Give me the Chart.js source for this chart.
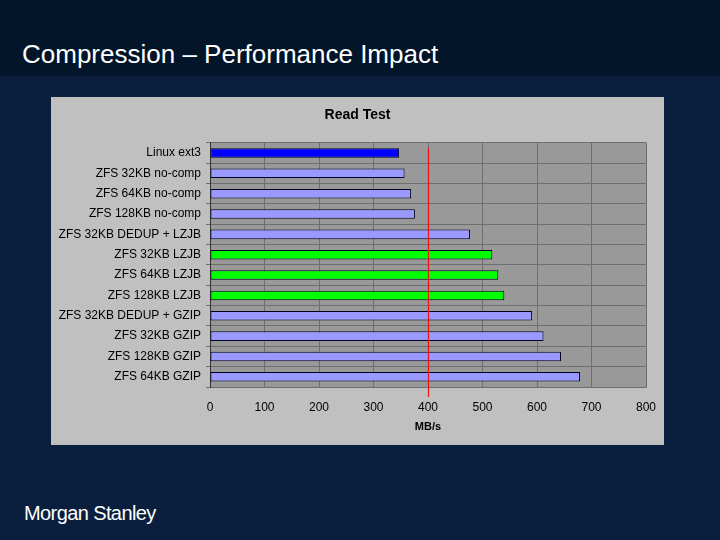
<!DOCTYPE html>
<html>
<head>
<meta charset="utf-8">
<script src="https://cdn.jsdelivr.net/npm/chart.js@4/dist/chart.umd.min.js"></script>
<style>
  html, body { margin: 0; padding: 0; }
  body { width: 720px; height: 540px; background: #0a1f3e; position: relative; overflow: hidden; font-family: "Liberation Sans", Arial, sans-serif; }
  #band { position: absolute; left: 0; top: 0; width: 720px; height: 76px; background: #021529; }
  #title { position: absolute; left: 22px; top: 39px; color: #ffffff; font-size: 26px; letter-spacing: 0px; }
  #logo { position: absolute; left: 24px; top: 502px; color: #ffffff; font-size: 20px; letter-spacing: -0.6px; }
  #panel { position: absolute; left: 51px; top: 97px; width: 613px; height: 348px; background: #c0c0c0; }
  #panel canvas { display: block; }
</style>
</head>
<body>
<div id="band"></div>
<div id="title">Compression – Performance Impact</div>
<div id="panel"><canvas id="c" width="613" height="348"></canvas></div>
<div id="logo">Morgan Stanley</div>
<script>
const categories = [
  "Linux ext3",
  "ZFS 32KB no-comp",
  "ZFS 64KB no-comp",
  "ZFS 128KB no-comp",
  "ZFS 32KB DEDUP + LZJB",
  "ZFS 32KB LZJB",
  "ZFS 64KB LZJB",
  "ZFS 128KB LZJB",
  "ZFS 32KB DEDUP + GZIP",
  "ZFS 32KB GZIP",
  "ZFS 128KB GZIP",
  "ZFS 64KB GZIP"
];
const readMBs = [347, 357, 369, 376, 477, 518, 529, 540, 591, 612, 644, 679];
const groups = ["ext3", "zfs", "zfs", "zfs", "zfs", "lzjb", "lzjb", "lzjb", "zfs", "zfs", "zfs", "zfs"];
const xTicks = [0, 100, 200, 300, 400, 500, 600, 700, 800];
const referenceLine = 400;

const groupColor = { ext3: "#0000ff", zfs: "#9999ff", lzjb: "#00ff00" };

const FONT = "'Liberation Sans', Arial, sans-serif";

const bgPlugin = {
  id: "plotBg",
  beforeDraw(chart) {
    const { ctx, chartArea: a } = chart;
    ctx.save();
    ctx.fillStyle = "#999999";
    ctx.fillRect(a.left, a.top, a.right - a.left, a.bottom - a.top);
    ctx.restore();
  }
};

const refLinePlugin = {
  id: "refLine",
  afterDraw(chart) {
    const { ctx, chartArea: a, scales } = chart;
    const x = Math.round(scales.x.getPixelForValue(referenceLine)) + 0.5;
    ctx.save();
    ctx.strokeStyle = "#ee1111";
    ctx.lineWidth = 1.2;
    ctx.beginPath();
    ctx.moveTo(x, a.top + 5);
    ctx.lineTo(x, a.bottom + 10);
    ctx.stroke();
    ctx.restore();
  }
};

new Chart(document.getElementById("c"), {
  type: "bar",
  data: {
    labels: categories,
    datasets: [{
      label: "Read Test",
      data: readMBs,
      backgroundColor: groups.map(g => groupColor[g]),
      borderColor: "#000022",
      borderWidth: 1,
      borderSkipped: false,
      categoryPercentage: 1,
      barPercentage: 0.47
    }]
  },
  options: {
    indexAxis: "y",
    responsive: false,
    animation: false,
    devicePixelRatio: 1,
    layout: { padding: 0 },
    plugins: {
      legend: { display: false },
      tooltip: { enabled: false },
      title: {
        display: true,
        text: "Read Test",
        color: "#000000",
        font: { family: FONT, size: 14, weight: "bold" },
        padding: { top: 10, bottom: 19 }
      }
    },
    scales: {
      x: {
        type: "linear",
        min: 0,
        max: 800,
        afterBuildTicks(scale) { scale.ticks = xTicks.map(v => ({ value: v })); },
        afterFit(scale) { scale.height = 58; scale.paddingRight = 18; },
        grid: { color: "#6e6e6e", drawTicks: false, lineWidth: 1 },
        border: { display: true, color: "#6e6e6e" },
        ticks: { color: "#000000", font: { family: FONT, size: 12 }, padding: 13 },
        title: {
          display: true,
          text: "MB/s",
          color: "#000000",
          font: { family: FONT, size: 11, weight: "bold" },
          padding: { top: 4, bottom: 11 }
        }
      },
      y: {
        afterFit(scale) { scale.width = 159; },
        grid: { color: "#6e6e6e", offset: true, drawTicks: true, tickLength: 4, lineWidth: 1 },
        border: { display: true, color: "#333333" },
        ticks: { color: "#000000", font: { family: FONT, size: 12 }, padding: 5, autoSkip: false }
      }
    }
  },
  plugins: [bgPlugin, refLinePlugin]
});
</script>
</body>
</html>
